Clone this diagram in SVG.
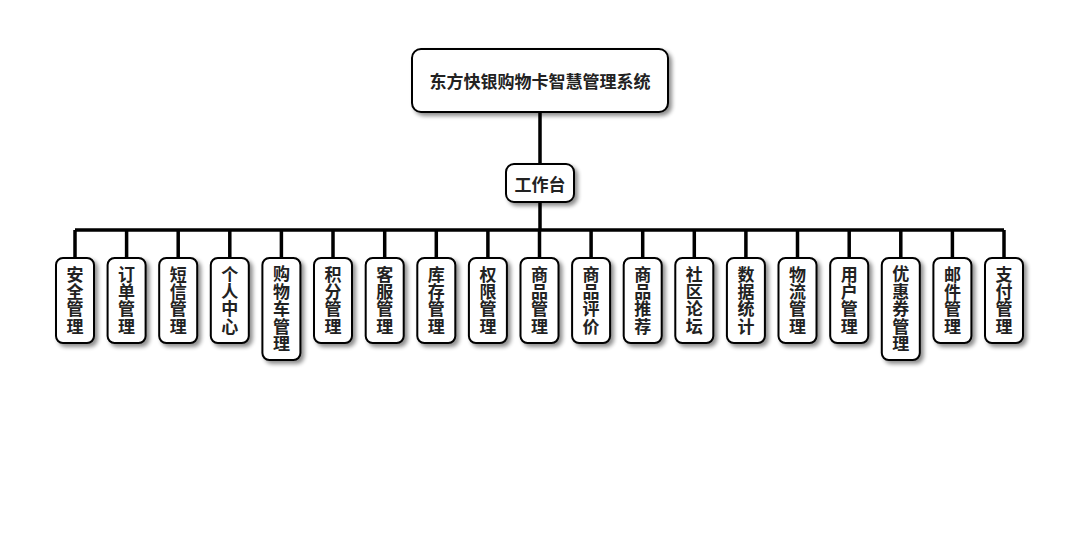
<svg xmlns="http://www.w3.org/2000/svg" width="1080" height="560" viewBox="0 0 1080 560">
<defs>
<filter id="sh" x="-30%" y="-30%" width="160%" height="160%">
<feGaussianBlur in="SourceAlpha" stdDeviation="2"/>
<feOffset dx="3" dy="3" result="b"/>
<feComponentTransfer><feFuncA type="linear" slope="0.45"/></feComponentTransfer>
<feMerge><feMergeNode/><feMergeNode in="SourceGraphic"/></feMerge>
</filter>
<style>
.box{fill:#fff;stroke:#000;stroke-width:2;filter:url(#sh)}
.t{font-family:"Noto Sans CJK SC","Noto Sans",sans-serif;font-weight:bold;font-size:17px;fill:#222;text-anchor:middle;dominant-baseline:central}
.v{font-family:"Noto Sans CJK SC","Noto Sans",sans-serif;font-weight:bold;font-size:17px;fill:#222;text-anchor:middle;writing-mode:vertical-rl;letter-spacing:0.4px}
.c{stroke:#000;stroke-width:3.5;fill:none}
</style>
</defs>
<rect width="1080" height="560" fill="#fff"/>
<g id="connectors">
<path class="c" d="M540 112V164M540 202V230M75 230H1004"/>
<path class="c" d="M75 230V258M126.6 230V258M178.2 230V258M229.8 230V258M281.4 230V258M333 230V258M384.7 230V258M436.3 230V258M487.9 230V258M539.5 230V258M591.1 230V258M642.7 230V258M694.3 230V258M745.9 230V258M797.5 230V258M849.2 230V258M900.8 230V258M952.4 230V258M1004 230V258"/>
</g>
<g id="root"><rect class="box" x="412" y="49" width="256" height="63" rx="9"/><text class="t" x="540" y="80.5">东方快银购物卡智慧管理系统</text></g>
<g id="gzt"><rect class="box" x="506" y="164" width="68" height="38" rx="8"/><text class="t" x="540" y="183">工作台</text></g>
<g id="n1"><rect class="box" x="56" y="258" width="38" height="85" rx="7"/><text class="v" x="75" y="300.5">安全管理</text></g>
<g id="n2"><rect class="box" x="107.6" y="258" width="38" height="85" rx="7"/><text class="v" x="126.6" y="300.5">订单管理</text></g>
<g id="n3"><rect class="box" x="159.2" y="258" width="38" height="85" rx="7"/><text class="v" x="178.2" y="300.5">短信管理</text></g>
<g id="n4"><rect class="box" x="210.8" y="258" width="38" height="85" rx="7"/><text class="v" x="229.8" y="300.5">个人中心</text></g>
<g id="n5"><rect class="box" x="262.4" y="258" width="38" height="102" rx="7"/><text class="v" x="281.4" y="309">购物车管理</text></g>
<g id="n6"><rect class="box" x="314" y="258" width="38" height="85" rx="7"/><text class="v" x="333" y="300.5">积分管理</text></g>
<g id="n7"><rect class="box" x="365.7" y="258" width="38" height="85" rx="7"/><text class="v" x="384.7" y="300.5">客服管理</text></g>
<g id="n8"><rect class="box" x="417.3" y="258" width="38" height="85" rx="7"/><text class="v" x="436.3" y="300.5">库存管理</text></g>
<g id="n9"><rect class="box" x="468.9" y="258" width="38" height="85" rx="7"/><text class="v" x="487.9" y="300.5">权限管理</text></g>
<g id="n10"><rect class="box" x="520.5" y="258" width="38" height="85" rx="7"/><text class="v" x="539.5" y="300.5">商品管理</text></g>
<g id="n11"><rect class="box" x="572.1" y="258" width="38" height="85" rx="7"/><text class="v" x="591.1" y="300.5">商品评价</text></g>
<g id="n12"><rect class="box" x="623.7" y="258" width="38" height="85" rx="7"/><text class="v" x="642.7" y="300.5">商品推荐</text></g>
<g id="n13"><rect class="box" x="675.3" y="258" width="38" height="85" rx="7"/><text class="v" x="694.3" y="300.5">社区论坛</text></g>
<g id="n14"><rect class="box" x="726.9" y="258" width="38" height="85" rx="7"/><text class="v" x="745.9" y="300.5">数据统计</text></g>
<g id="n15"><rect class="box" x="778.5" y="258" width="38" height="85" rx="7"/><text class="v" x="797.5" y="300.5">物流管理</text></g>
<g id="n16"><rect class="box" x="830.2" y="258" width="38" height="85" rx="7"/><text class="v" x="849.2" y="300.5">用户管理</text></g>
<g id="n17"><rect class="box" x="881.8" y="258" width="38" height="102" rx="7"/><text class="v" x="900.8" y="309">优惠券管理</text></g>
<g id="n18"><rect class="box" x="933.4" y="258" width="38" height="85" rx="7"/><text class="v" x="952.4" y="300.5">邮件管理</text></g>
<g id="n19"><rect class="box" x="985" y="258" width="38" height="85" rx="7"/><text class="v" x="1004" y="300.5">支付管理</text></g>
</svg>
